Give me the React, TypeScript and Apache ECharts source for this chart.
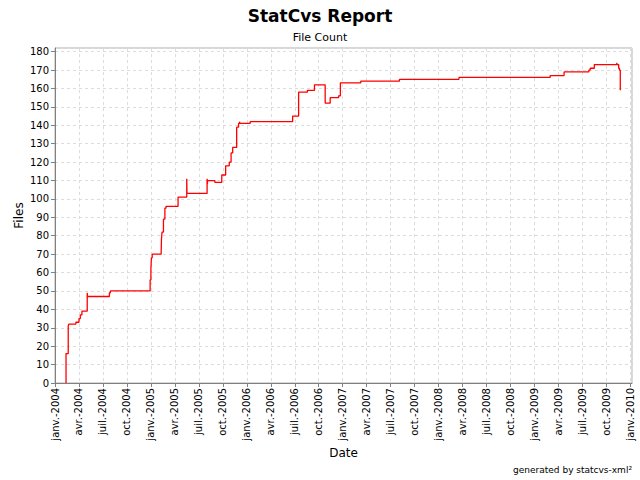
import React, { useEffect, useRef } from "react";
import * as echarts from "echarts";

// Step dates (file count changes) and file counts
const dates: string[] = [
  "2004-02-12", "2004-02-12", "2004-02-20", "2004-02-22", "2004-03-20", "2004-04-01",
  "2004-04-06", "2004-04-12", "2004-05-02", "2004-05-03", "2004-07-26", "2004-07-30",
  "2004-12-29", "2005-01-01", "2005-01-03", "2005-01-06", "2005-02-09", "2005-02-10",
  "2005-02-12", "2005-02-17", "2005-02-22", "2005-02-26", "2005-04-13", "2005-05-16",
  "2005-05-17", "2005-08-02", "2005-08-03", "2005-08-04", "2005-09-01", "2005-09-27",
  "2005-10-12", "2005-10-26", "2005-11-02", "2005-11-08", "2005-11-23", "2005-11-30",
  "2005-12-04", "2005-12-05", "2006-01-14", "2006-06-23", "2006-07-16", "2006-08-19",
  "2006-09-15", "2006-10-26", "2006-11-14", "2006-12-16", "2006-12-23", "2007-03-09",
  "2007-08-04", "2008-03-18", "2009-02-28", "2009-04-22", "2009-07-26", "2009-07-31",
  "2009-08-16", "2009-11-10", "2009-11-11", "2009-11-17", "2009-11-20", "2009-11-23",
];
const files: number[] = [
  0, 16, 31, 32, 33, 35,
  37, 39, 49, 47, 49, 50,
  56, 62, 68, 70, 71, 78,
  82, 89, 95, 96, 101, 111,
  103, 111, 108, 110, 109, 113,
  118, 120, 125, 128, 139, 141,
  142, 141, 142, 145, 158, 159,
  162, 152, 155, 156, 163, 164,
  165, 166, 167, 169, 170, 171,
  173, 174, 173, 171, 170, 159,
];
const monthNames: string[] = [
  "janv.", "févr.", "mars", "avr.", "mai", "juin",
  "juil.", "août", "sept.", "oct.", "nov.", "déc.",
];
const startYear = 2004;

function toMonthIndex(d: string): number {
  const [y, m, day] = d.split("-").map(Number);
  const dim = new Date(y, m, 0).getDate();
  return (y - startYear) * 12 + (m - 1) + (day - 1) / dim;
}

export default function App() {
  const ref = useRef<HTMLDivElement>(null);
  useEffect(() => {
    if (!ref.current) return;
    const chart = echarts.init(ref.current, undefined, { renderer: "svg" });
    const font = "DejaVu Sans";
    const data = dates.map((d, i) => [toMonthIndex(d), files[i]]);
    chart.setOption({
      animation: false,
      backgroundColor: "#ffffff",
      title: [
        {
          text: "StatCvs Report",
          left: "center",
          top: 2,
          textStyle: { fontFamily: font, fontSize: 17, fontWeight: "bold", color: "#000" },
        },
        {
          text: "File Count",
          left: "center",
          top: 27,
          textStyle: { fontFamily: font, fontSize: 11, fontWeight: "normal", color: "#000" },
        },
      ],
      graphic: [
        {
          type: "text",
          right: 8,
          top: 465,
          style: {
            text: "generated by statcvs-xml²",
            font: "9px 'DejaVu Sans'",
            fill: "#000",
          },
        },
      ],
      grid: {
        left: 55,
        right: 8,
        top: 48,
        bottom: 97,
        show: true,
        borderColor: "#b0b0b0",
        borderWidth: 1,
        backgroundColor: "#ffffff",
      },
      xAxis: {
        type: "value",
        min: 0,
        max: 72.2,
        interval: 3,
        name: "Date",
        nameLocation: "middle",
        nameGap: 64,
        nameMoveOverlap: false,
        nameTextStyle: { fontFamily: font, fontSize: 12, color: "#000" },
        axisLine: { show: true, onZero: false, lineStyle: { color: "#808080" } },
        axisTick: { show: true, length: 4, inside: false, lineStyle: { color: "#808080" } },
        axisLabel: {
          rotate: 90,
          fontFamily: font,
          fontSize: 10,
          color: "#000",
          margin: 5,
          showMaxLabel: false,
          formatter: (v: number) => {
            const r = Math.round(v);
            if (Math.abs(v - r) > 1e-6 || r % 3 !== 0) return "";
            return monthNames[r % 12] + "-" + (startYear + Math.floor(r / 12));
          },
        },
        splitLine: { show: true, lineStyle: { color: "#dcdcdc", type: [3, 3], width: 1 } },
      },
      yAxis: {
        type: "value",
        min: 0,
        max: 182,
        interval: 10,
        name: "Files",
        nameLocation: "middle",
        nameGap: 30,
        nameMoveOverlap: false,
        nameRotate: 90,
        nameTextStyle: { fontFamily: font, fontSize: 12, color: "#000" },
        axisLine: { show: true, lineStyle: { color: "#808080" } },
        axisTick: { show: true, length: 4, lineStyle: { color: "#808080" } },
        axisLabel: {
          fontFamily: font,
          fontSize: 10,
          color: "#000",
          margin: 6,
          showMaxLabel: false,
          formatter: (v: number) => (v % 10 === 0 ? String(v) : ""),
        },
        splitLine: { show: true, lineStyle: { color: "#dcdcdc", type: [3, 3], width: 1 } },
      },
      series: [
        {
          type: "line",
          step: "end",
          data,
          showSymbol: false,
          symbol: "none",
          lineStyle: { color: "#ff0000", width: 1.3 },
        },
      ],
    });
    return () => chart.dispose();
  }, []);
  return <div ref={ref} style={{ width: 640, height: 480, position: "absolute", left: 0, top: 0 }} />;
}
